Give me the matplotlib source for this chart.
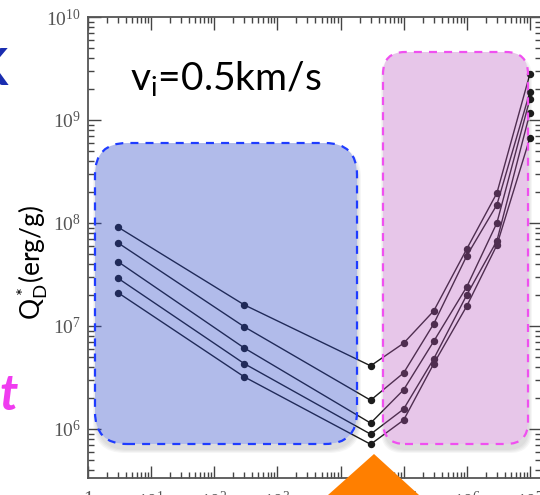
import matplotlib
matplotlib.use("Agg")
import matplotlib.pyplot as plt
from matplotlib.patches import FancyBboxPatch, Polygon
from matplotlib.transforms import Affine2D
from matplotlib.ticker import LogLocator, NullFormatter, FuncFormatter
import numpy as np

W, H = 540, 495

# target radius (cm) and specific impact energy for five target setups
radius = [3, 300, 3e4, 1e5, 3e5, 1e6, 3e6, 1e7]
q_series = [
    [9.1e7, 1.6e7, 4.1e6, 6.8e6, 1.4e7, 5.6e7, 1.95e8, 2.8e9],
    [6.4e7, 9.8e6, 1.9e6, 3.5e6, 1.05e7, 4.8e7, 1.5e8, 1.87e9],
    [4.2e7, 6.1e6, 1.14e6, 2.4e6, 7.1e6, 2.4e7, 1.0e8, 1.6e9],
    [2.9e7, 4.3e6, 8.9e5, 1.56e6, 4.8e6, 2.0e7, 6.7e7, 1.17e9],
    [2.1e7, 3.2e6, 7.1e5, 1.22e6, 4.3e6, 1.56e7, 6.1e7, 6.7e8],
]

plt.rcParams['font.family'] = ['Lato', 'DejaVu Sans']
plt.rcParams['mathtext.default'] = 'regular'

fig = plt.figure(figsize=(W / 100, H / 100), dpi=100)
ax = fig.add_axes([88 / W, 17 / H, 453 / W, 461 / H])
px = Affine2D().scale(1 / W, 1 / H) + fig.transFigure

for q in q_series:
    ax.plot(radius, q, color='#1c1c1c', lw=1.0, marker='o', ms=4.3,
            zorder=2, clip_on=False)

ax.set_xscale('log')
ax.set_yscale('log')
ax.set_xlim(1, 1.5e7)
ax.set_ylim(3.34e5, 1e10)


def pow_label(v, pos):
    n = int(round(np.log10(v)))
    return '1' if n == 0 else r'$\mathregular{10^{%d}}$' % n


for axis in (ax.xaxis, ax.yaxis):
    axis.set_major_locator(LogLocator(base=10, numticks=20))
    axis.set_minor_locator(LogLocator(base=10, subs=range(2, 10), numticks=20))
    axis.set_minor_formatter(NullFormatter())
    axis.set_major_formatter(FuncFormatter(pow_label))
ax.tick_params(which='both', direction='in', top=True, right=True,
               color='#444444', width=1.0, labelcolor='#555555', pad=5,
               labelsize=14, labelfontfamily='Liberation Serif')
ax.tick_params(axis='x', pad=9)
ax.tick_params(which='major', length=9)
ax.tick_params(which='minor', length=4.5)
for s in ax.spines.values():
    s.set_color('#555555')
    s.set_linewidth(1.3)


def region(x0, y_top, x1, y_bot, radius_px, face, alpha, edge):
    y0 = H - y_bot
    w, h = x1 - x0, y_bot - y_top
    style = 'round,pad=0,rounding_size=%d' % radius_px
    # soft drop shadow
    for i in range(4):
        sh = FancyBboxPatch((x0 + 1 - i, y0 - 6 - i), w + 2 * i, h + 2 * i,
                            boxstyle=style, transform=px, fc='#808080',
                            ec='none', alpha=0.07, zorder=0.5, clip_on=False)
        ax.add_patch(sh)
    cover = FancyBboxPatch((x0, y0), w, h, boxstyle=style, transform=px,
                           fc='white', ec='none', zorder=1, clip_on=False)
    ax.add_patch(cover)
    tint = FancyBboxPatch((x0, y0), w, h, boxstyle=style, transform=px,
                          fc=face, alpha=alpha, ec='none', zorder=3,
                          clip_on=False)
    ax.add_patch(tint)
    rim = FancyBboxPatch((x0, y0), w, h, boxstyle=style, transform=px,
                         fc='none', ec=edge, lw=1.6, ls=(0, (3.6, 3.2)),
                         zorder=3.5, clip_on=False)
    ax.add_patch(rim)


region(95, 143, 357, 444, 32, (0.16, 0.27, 0.78), 0.36, '#1f3cff')
region(383, 52, 528, 444, 22, (0.72, 0.33, 0.74), 0.33, '#f050f0')

ax.add_patch(Polygon([(374, H - 454), (328, 0), (419, 0)], closed=True,
                     transform=px, fc='#ff7f00', ec='none', zorder=10,
                     clip_on=False))

fig.text(130 / W, 1 - 90 / H, r'v$_\mathregular{i}$=0.5km/s', fontsize=28,
         color='black', ha='left', va='baseline')
fig.text(32 / W, 1 - 263 / H, r'Q$^*_\mathregular{D}$(erg/g)', fontsize=19,
         rotation=90, ha='center', va='center')

fig.text(8 / W, 1 - 85 / H, 'K', fontsize=37, color='#1a2db0',
         fontweight='bold', ha='right', va='baseline')
fig.text(18 / W, 1 - 410 / H, 't', fontsize=36, color='#f03cf0',
         fontstyle='italic', fontweight='bold', ha='right', va='baseline')

fig.savefig('out.png', dpi=100)
